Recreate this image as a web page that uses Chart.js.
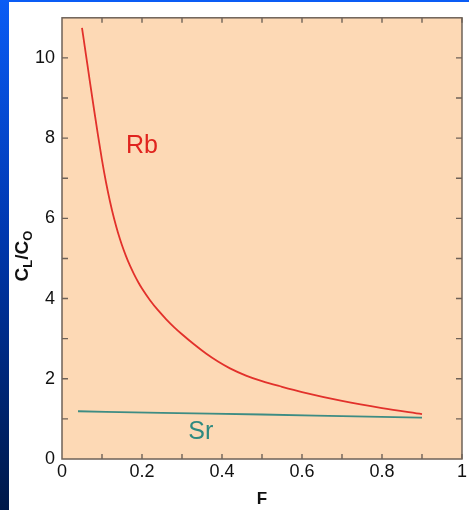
<!DOCTYPE html>
<html>
<head>
<meta charset="utf-8">
<script src="https://cdn.jsdelivr.net/npm/chart.js@4"></script>
<style>
  body { margin: 0; background: #fff; }
  #wrap { position: relative; width: 469px; height: 510px; overflow: hidden; }
  #side { position: absolute; left: 0; top: 0; width: 9px; height: 510px;
          background: linear-gradient(#0a5cf5, #0038b0 45%, #001848 100%); }
  #topline { position: absolute; left: 0; top: 0; width: 469px; height: 2px; background: #0a5cf5; }
  canvas { position: absolute; left: 0; top: 0; }
</style>
</head>
<body>
<div id="wrap">
  <div id="side"></div>
  <div id="topline"></div>
  <canvas id="meltChart" width="469" height="510"></canvas>
</div>
<script>
// melt fraction F and normalised liquid concentration
var rbF = [0.05, 0.06, 0.07, 0.08, 0.09, 0.1, 0.11, 0.12, 0.13, 0.14, 0.15, 0.16, 0.17, 0.18, 0.19, 0.2,
           0.22, 0.24, 0.26, 0.28, 0.3, 0.33, 0.36, 0.39, 0.42, 0.46, 0.5, 0.55, 0.6, 0.7, 0.8, 0.9];
var rbC = [10.75, 10.07, 9.39, 8.72, 8.07, 7.45, 6.9, 6.42, 6.0, 5.64, 5.33, 5.06, 4.82, 4.61, 4.42, 4.25,
           3.96, 3.71, 3.49, 3.29, 3.11, 2.86, 2.63, 2.43, 2.26, 2.08, 1.94, 1.8, 1.67, 1.45, 1.27, 1.12];
var srF = [0.04, 0.25, 0.5, 0.7, 0.9];
var srC = [1.19, 1.15, 1.11, 1.07, 1.03];
var xTicks = [0, 0.2, 0.4, 0.6, 0.8, 1];
var yTicks = [0, 2, 4, 6, 8, 10];

var FONT = "'Liberation Sans', Arial, Helvetica, sans-serif";

function toPoints(xs, ys) {
  var pts = [];
  for (var i = 0; i < xs.length; i++) pts.push({ x: xs[i], y: ys[i] });
  return pts;
}

var data_rb = {
  label: "Rb",
  data: toPoints(rbF, rbC),
  showLine: true,
  borderColor: '#e2312b',
  borderWidth: 1.8,
  pointRadius: 0,
  cubicInterpolationMode: 'monotone'
};

var data_sr = {
  label: "Sr",
  data: toPoints(srF, srC),
  showLine: true,
  borderColor: '#3d8c83',
  borderWidth: 1.8,
  pointRadius: 0,
  cubicInterpolationMode: 'monotone'
};

// peach panel, framed box, inward ticks on all four sides, labels
var framePlugin = {
  id: 'framePlugin',
  beforeDatasetsDraw: function (chart) {
    var a = chart.chartArea, ctx = chart.ctx;
    ctx.save();
    ctx.fillStyle = '#fdd9b5';
    ctx.fillRect(a.left, a.top, a.right - a.left, a.bottom - a.top);
    ctx.restore();
  },
  afterDatasetsDraw: function (chart) {
    var a = chart.chartArea, ctx = chart.ctx;
    var xs = chart.scales.x, ys = chart.scales.y;
    ctx.save();
    ctx.strokeStyle = '#6e6258';
    ctx.lineWidth = 1.5;
    ctx.strokeRect(a.left, a.top, a.right - a.left, a.bottom - a.top);
    ctx.lineWidth = 1.4;
    ctx.beginPath();
    for (var v = 0.1; v < 1; v += 0.1) {
      var px = xs.getPixelForValue(v);
      ctx.moveTo(px, a.bottom); ctx.lineTo(px, a.bottom - 5);
      ctx.moveTo(px, a.top); ctx.lineTo(px, a.top + 5);
    }
    for (var k = 1; k <= 10; k++) {
      var py = ys.getPixelForValue(k);
      ctx.moveTo(a.left, py); ctx.lineTo(a.left + 6, py);
      ctx.moveTo(a.right, py); ctx.lineTo(a.right - 6, py);
    }
    ctx.stroke();

    // series labels
    ctx.font = '25px ' + FONT;
    ctx.textAlign = 'center';
    ctx.textBaseline = 'middle';
    ctx.fillStyle = '#e0241e';
    ctx.fillText('Rb', xs.getPixelForValue(0.2), ys.getPixelForValue(7.8));
    ctx.fillStyle = '#2f8a80';
    ctx.fillText('Sr', xs.getPixelForValue(0.347), ys.getPixelForValue(0.66));

    // y title with subscripts, rotated
    var parts = [['C', 'bold 19px '], ['L', 'bold 13px '], ['/C', 'bold 19px '], ['O', 'bold 13px ']];
    var total = 0;
    for (var i = 0; i < parts.length; i++) {
      ctx.font = parts[i][1] + FONT;
      total += ctx.measureText(parts[i][0]).width;
    }
    ctx.translate(22, 256);
    ctx.rotate(-Math.PI / 2);
    ctx.fillStyle = '#111';
    ctx.textAlign = 'left';
    ctx.textBaseline = 'alphabetic';
    var cx = -total / 2;
    for (var j = 0; j < parts.length; j++) {
      ctx.font = parts[j][1] + FONT;
      var sub = parts[j][1].indexOf('13px') >= 0;
      ctx.fillText(parts[j][0], cx, sub ? 10 : 6);
      cx += ctx.measureText(parts[j][0]).width;
    }
    ctx.restore();
  }
};

var config = {
  type: 'scatter',
  data: { datasets: [data_rb, data_sr] },
  options: {
    responsive: false,
    animation: false,
    layout: { padding: { left: 10, top: 12, right: 6, bottom: 0 } },
    plugins: { legend: { display: false }, tooltip: { enabled: false } },
    scales: {
      x: {
        type: 'linear', min: 0, max: 1,
        grid: { display: false, drawTicks: false, tickLength: 0 },
        border: { display: false },
        afterFit: function (s) { s.height = 51; },
        afterBuildTicks: function (s) { s.ticks = xTicks.map(function (v) { return { value: v }; }); },
        ticks: { color: '#111', padding: 2, font: { size: 18, family: FONT },
                 callback: function (v) { return String(v); } },
        title: { display: true, text: 'F', color: '#111', padding: { top: 0, bottom: 0 },
                 font: { size: 17, weight: 'bold', family: FONT } }
      },
      y: {
        type: 'linear', min: 0, max: 11,
        grid: { display: false, drawTicks: false, tickLength: 0 },
        border: { display: false },
        afterFit: function (s) { s.width = 52; },
        afterBuildTicks: function (s) { s.ticks = yTicks.map(function (v) { return { value: v }; }); },
        ticks: { color: '#111', padding: 7, font: { size: 18, family: FONT },
                 callback: function (v) { return String(v); } }
      }
    }
  },
  plugins: [framePlugin]
};

var chart = new Chart(document.getElementById('meltChart'), config);
</script>
</body>
</html>
